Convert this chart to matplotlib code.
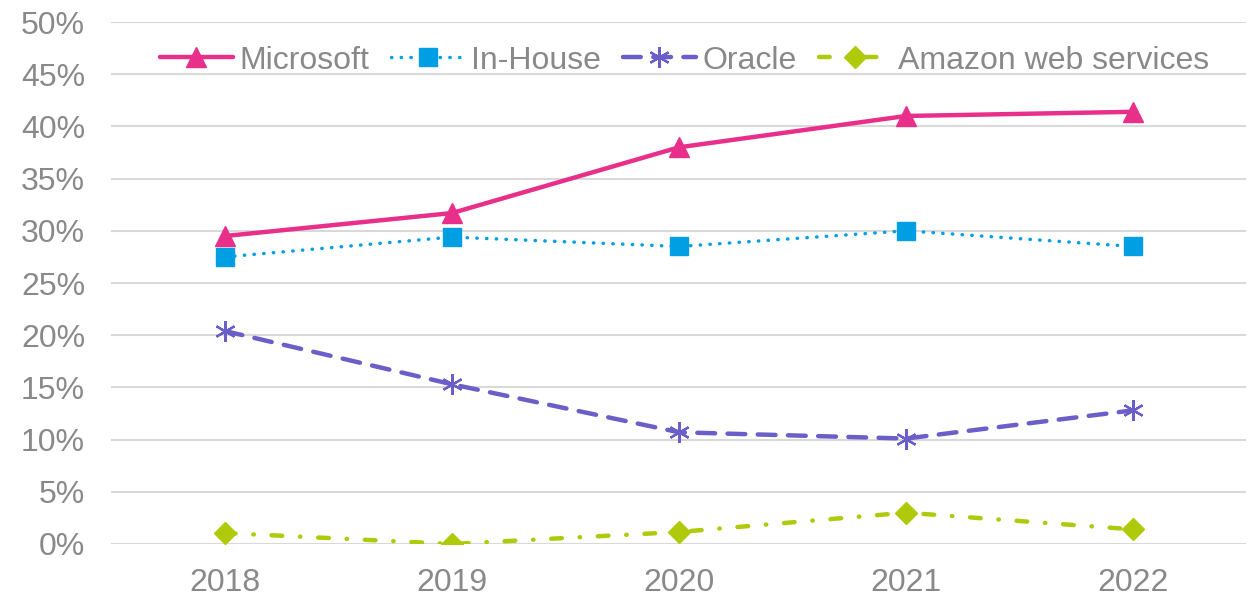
import matplotlib.pyplot as plt
from matplotlib.ticker import PercentFormatter

plt.rcParams['font.family'] = ['Liberation Sans', 'DejaVu Sans']

# Data
years = ["2018", "2019", "2020", "2021", "2022"]
microsoft = [29.5, 31.7, 38.0, 41.0, 41.4]
in_house = [27.5, 29.4, 28.5, 30.0, 28.5]
oracle = [20.4, 15.3, 10.7, 10.1, 12.8]
amazon = [1.05, 0.0, 1.15, 3.0, 1.4]

text_grey = "#898989"

fig = plt.figure(figsize=(12.55, 5.97), dpi=100)
ax = fig.add_axes([0.0888, 0.0888, 0.9044, 0.8743])

x = range(len(years))
ax.plot(x, microsoft, color="#E8308A", lw=3.2, marker="^", ms=14,
        solid_capstyle="round", label="Microsoft", zorder=3)
ax.plot(x, in_house, color="#009FE3", lw=2.5, linestyle=(0, (0.1, 2.7)),
        dash_capstyle="round", marker="s", ms=12.5, label="In-House", zorder=3)
ax.plot(x, oracle, color="#6A5FC9", lw=3.2, linestyle=(0, (4, 2.8)),
        dash_capstyle="round", marker=(6, 2, 0), ms=15, mew=1.6,
        label="Oracle", zorder=3)
ax.plot(x, amazon, color="#AFCA0B", lw=3.2, linestyle=(0, (2.4, 4, 0.1, 4)),
        dash_capstyle="round", marker="D", ms=11, label="Amazon web services",
        zorder=3)

ax.set_xlim(-0.5, len(years) - 0.5)
ax.set_ylim(0, 50)
ax.set_yticks(range(0, 51, 5))
ax.yaxis.set_major_formatter(PercentFormatter(decimals=0))
ax.set_xticks(list(x))
ax.set_xticklabels(years)

ax.grid(axis="y", color="#D9D9D9", lw=1.5)
ax.set_axisbelow(True)
for side in ["top", "right", "left", "bottom"]:
    ax.spines[side].set_visible(False)
ax.tick_params(axis="both", length=0, labelsize=23, labelcolor=text_grey)
ax.tick_params(axis="y", pad=19)
ax.tick_params(axis="x", pad=17)

leg = ax.legend(loc="center", bbox_to_anchor=(0.505, 0.926), ncol=4,
                frameon=False, fontsize=23, handlelength=2.3,
                handletextpad=0.2, columnspacing=0.68, borderaxespad=0)
for t in leg.get_texts():
    t.set_color(text_grey)

fig.savefig("out.png", dpi=100)
